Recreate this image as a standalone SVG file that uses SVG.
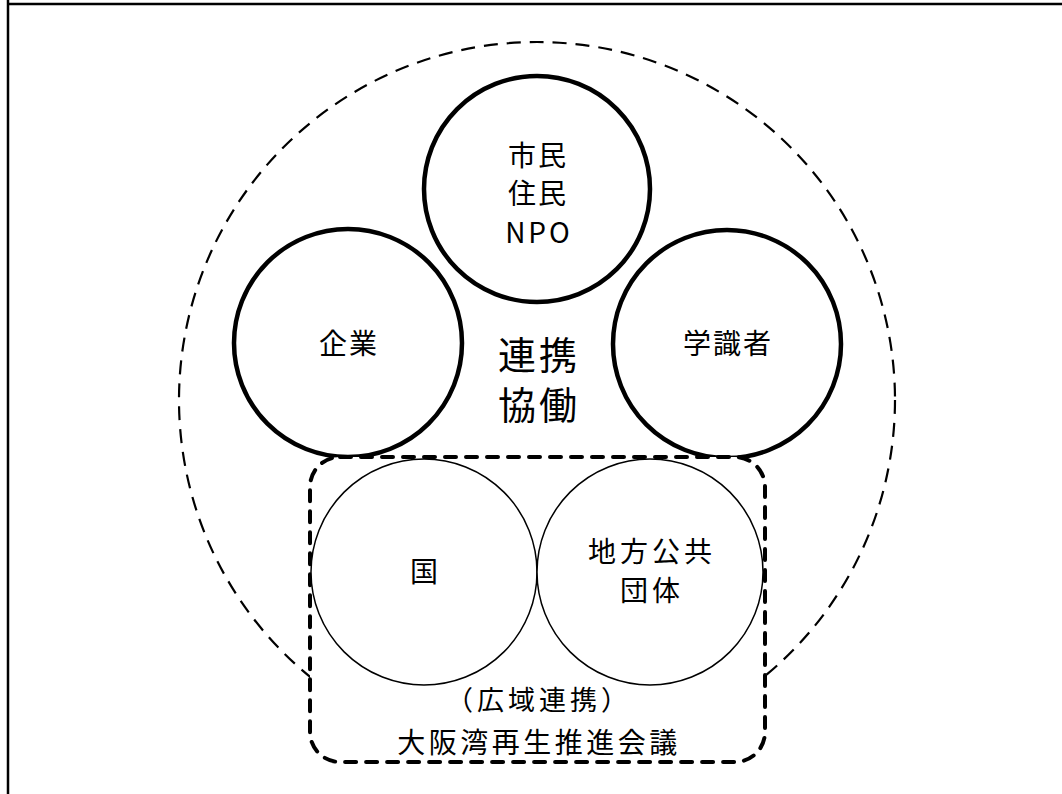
<svg xmlns="http://www.w3.org/2000/svg" width="1062" height="794" viewBox="0 0 1062 794">
<style>
text{font-family:"Noto Sans CJK JP","Liberation Sans",sans-serif;fill:#000;text-anchor:middle;font-weight:400}
.t{font-size:28px;letter-spacing:2px}
.big{font-size:38px;letter-spacing:3px}
.thick{fill:#fff;stroke:#000;stroke-width:4.5}
.thin{fill:#fff;stroke:#000;stroke-width:1.5}
</style>
<rect width="1062" height="794" fill="#fff"/>
<g id="frame" stroke="#000" stroke-width="2.5">
<line x1="7" y1="4" x2="1062" y2="4"/>
<line x1="8" y1="0" x2="8" y2="794"/>
</g>
<g id="outer">
<circle cx="537" cy="400" r="358" fill="none" stroke="#000" stroke-width="2.2" stroke-dasharray="14 9"/>
</g>
<g id="citizens">
<circle class="thick" cx="537" cy="189" r="113"/>
<text class="t" x="538" y="166">市民</text>
<text class="t" x="538" y="204">住民</text>
<text class="t" x="539" y="243" style="letter-spacing:3px">NPO</text>
</g>
<g id="companies">
<circle class="thick" cx="348" cy="343" r="114"/>
<text class="t" x="349" y="354">企業</text>
</g>
<g id="academics">
<circle class="thick" cx="727" cy="344" r="114"/>
<text class="t" x="728" y="354">学識者</text>
</g>
<g id="center-label">
<text class="big" x="539" y="369">連携</text>
<text class="big" x="539" y="419">協働</text>
</g>
<g id="council">
<rect x="310" y="457" width="455" height="305" rx="30" fill="#fff" stroke="#000" stroke-width="4" stroke-dasharray="11 10" stroke-linecap="round"/>
<text x="539" y="710" style="font-size:27px;letter-spacing:4px">（広域連携）</text>
<text class="t" x="539" y="753" style="letter-spacing:3.5px">大阪湾再生推進会議</text>
</g>
<g id="nation">
<circle class="thin" cx="424" cy="572" r="113"/>
<text class="t" x="425" y="582">国</text>
</g>
<g id="local-gov">
<circle class="thin" cx="650" cy="572" r="113"/>
<text class="t" x="652" y="562" style="letter-spacing:4px">地方公共</text>
<text class="t" x="652" y="601" style="letter-spacing:4px">団体</text>
</g>
</svg>
